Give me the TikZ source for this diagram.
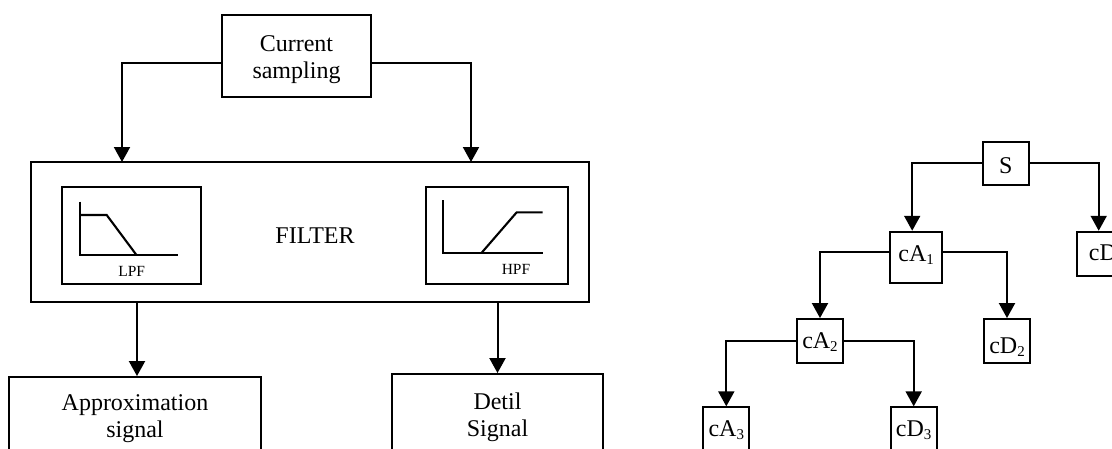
\documentclass[tikz,border=0pt]{standalone}
\usepackage{fontspec}
\setmainfont{Liberation Serif}
\usetikzlibrary{arrows.meta}
\newcommand{\sbx}[1]{\raisebox{-3pt}{\fontsize{15}{15}\selectfont #1}}
\newcommand{\twol}[2]{\begin{tabular}[t]{@{}c@{}}#1\\#2\end{tabular}}
\begin{document}
\begin{tikzpicture}[x=1pt,y=-1pt,
  every node/.style={font=\fontsize{24}{27}\selectfont, inner sep=0pt},
  box/.style={draw, line width=1.9pt, rectangle},
  arr/.style={line width=2pt, -{Triangle[width=16pt,length=15pt]}},
  curve/.style={line width=2.1pt},
  small/.style={font=\fontsize{15.5}{17}\selectfont},
  leaf/.style={box, minimum width=46pt, minimum height=44pt, text height=20pt}]
\useasboundingbox (0,0) rectangle (1112,448);
\fill[white] (0,0) rectangle (1112,448);
\clip (0,0) rectangle (1112,448);

% ---- left part ----
\node[box, minimum width=149pt, minimum height=82pt, align=center,
      text height=18.9pt, text depth=27.5pt] (cs) at (296.5,56) {\twol{Current}{sampling}};

\node[box, minimum width=558pt, minimum height=140pt] (filter) at (310,232) {};
\node[anchor=base] (ftxt) at (315,243.3) {FILTER};
\node[box, minimum width=139pt, minimum height=97pt] (lpf) at (131.5,235.5) {};
\node[box, minimum width=142pt, minimum height=97pt] (hpf) at (497,235.5) {};
\draw[curve] (80,201.7) -- (80,255.3) -- (178.3,255.3);
\draw[curve] (80,215) -- (106.7,215) -- (136.7,255.3);
\draw[curve] (443.3,200) -- (443.3,252.7) -- (542.7,252.7);
\draw[curve] (481.7,252.7) -- (516.7,212.3) -- (542.7,212.3);
\node[small, anchor=base] (lpft) at (131.7,276.7) {LPF};
\node[small, anchor=base] (hpft) at (516,274.3) {HPF};

\node[box, minimum width=251.4pt, minimum height=81pt, align=center,
      text height=18.9pt, text depth=33.9pt] (approx) at (135,417.5) {\twol{Approximation}{signal}};
\node[box, minimum width=210.4pt, minimum height=85pt, align=center,
      text height=18.9pt, text depth=33.3pt] (detil) at (497.5,416.5) {\twol{Detil}{Signal}};

\coordinate (fa) at (122,162);
\coordinate (fb) at (471,162);
\coordinate (ain) at ([xshift=2pt]approx.north);
\draw[arr] ([yshift=-7pt]cs.west) -| (fa);
\draw[arr] ([yshift=-7pt]cs.east) -| (fb);
\draw[arr] (filter.south -| ain) -- (ain);
\draw[arr] (filter.south -| detil.north) -- (detil.north);

% ---- right part (tree) ----
\node[leaf, minimum height=43.3pt, text depth=0pt] (S) at (1005.7,163.35) {S};
\node[leaf, minimum width=52.3pt, minimum height=51pt, text depth=11pt] (cA1) at (916.2,257.2) {cA\sbx{1}};
\node[leaf, minimum width=60pt, text depth=7.4pt] (cD1) at (1106.7,253.7) {cD\sbx{1}};
\node[leaf, minimum width=45.4pt, minimum height=43.7pt, text depth=5pt] (cA2) at (820,340.85) {cA\sbx{2}};
\node[leaf, minimum height=43.7pt, text height=25pt, text depth=0pt] (cD2) at (1007,340.85) {cD\sbx{2}};
\node[leaf, text depth=5.2pt] (cA3) at (726.3,429.3) {cA\sbx{3}};
\node[leaf, text depth=5.2pt] (cD3) at (913.7,429.3) {cD\sbx{3}};

\draw[arr] (S.west) -| ([xshift=-4pt]cA1.north);
\draw[arr] (S.east) -| ([xshift=-8pt]cD1.north);
\draw[arr] ([yshift=5.5pt]cA1.west) -| (cA2.north);
\draw[arr] ([yshift=5.5pt]cA1.east) -| (cD2.north);
\draw[arr] (cA2.west) -| (cA3.north);
\draw[arr] (cA2.east) -| (cD3.north);
\end{tikzpicture}
\end{document}
